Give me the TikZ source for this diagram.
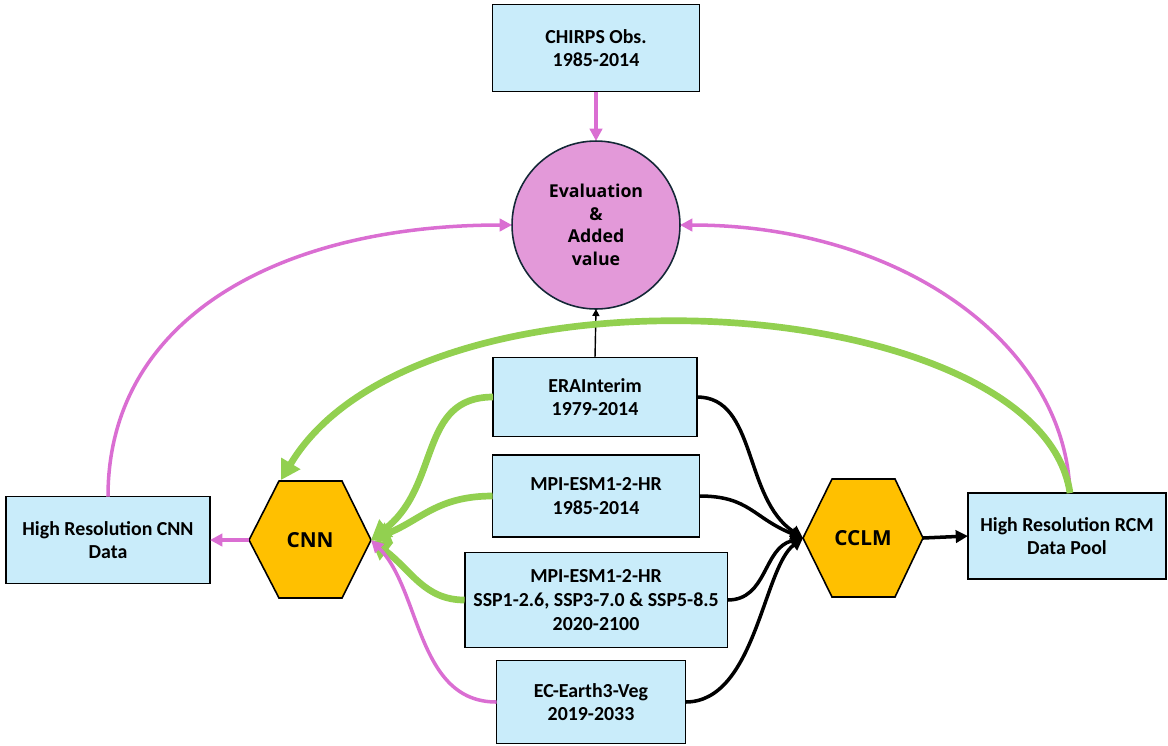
\documentclass[tikz,border=0pt]{standalone}
\usepackage{fontspec}
\setmainfont{Carlito}
\newfontfamily\osans{Open Sans}
\usetikzlibrary{arrows.meta}
\definecolor{boxblue}{RGB}{201,236,250}
\definecolor{hexorange}{RGB}{255,192,0}
\definecolor{evalpink}{RGB}{227,153,217}
\definecolor{linepink}{RGB}{218,110,210}
\definecolor{linegreen}{RGB}{146,208,80}
\definecolor{circborder}{RGB}{20,40,55}
\tikzset{
  databox/.style={draw=black, line width=1.1pt, fill=boxblue, inner sep=0pt, outer sep=0pt, align=center,
    font=\fontsize{11.3}{13.4}\selectfont\bfseries},
  hexshape/.style={draw=black, line width=0.9pt, fill=hexorange},
  hextext/.style={font=\osans\fontsize{11.8}{14}\selectfont\bfseries},
  pinkline/.style={draw=linepink, line width=2pt, -{Triangle[length=7pt,width=7pt]}},
  greenline/.style={draw=linegreen, line width=3.8pt, -{Triangle[length=11pt,width=12pt]}},
  blackline/.style={draw=black, line width=2pt, -{Triangle[length=7pt,width=7pt]}},
}
\begin{document}
\begin{tikzpicture}[x=0.02cm,y=-0.02cm]
\useasboundingbox (0,0) rectangle (1168,745);

% boxes
\node[databox, minimum width=4.14cm, minimum height=1.74cm] (chirps) at (596,48) {CHIRPS Obs.\\1985-2014};
\node[draw=circborder, line width=0.9pt, fill=evalpink, circle, minimum size=3.36cm, inner sep=0pt, outer sep=0pt, align=center,
  font=\osans\fontsize{10.1}{12.9}\selectfont\bfseries] (eval) at (596,225) {Evaluation\\\&\\Added\\value};
\node[databox, minimum width=4.08cm, minimum height=1.58cm] (era) at (595,397) {ERAInterim\\1979-2014};
\node[databox, minimum width=4.14cm, minimum height=1.64cm] (mpih) at (596,496) {MPI-ESM1-2-HR\\1985-2014};
\node[databox, minimum width=5.26cm, minimum height=1.9cm] (ssp) at (596,600) {MPI-ESM1-2-HR\\SSP1-2.6, SSP3-7.0 \& SSP5-8.5\\2020-2100};
\node[databox, minimum width=3.78cm, minimum height=1.66cm] (ec) at (591,702) {EC-Earth3-Veg\\2019-2033};
\node[databox, minimum width=4.08cm, minimum height=1.74cm] (hrcnn) at (108,540) {High Resolution CNN\\Data};
\node[databox, minimum width=3.96cm, minimum height=1.72cm] (hrrcm) at (1067,536) {High Resolution RCM\\Data Pool};

% hexagons
\draw[hexshape] (249,540) -- (279,481) -- (342,481) -- (371,540) -- (342,598) -- (279,598) -- cycle;
\node[hextext] (cnn) at (310,540) {CNN};
\coordinate (cnnL) at (249,540);
\coordinate (cnnR) at (371,540);
\coordinate (cnnT) at (281,480);

\draw[hexshape] (803,538) -- (832,479) -- (895,479) -- (923,538) -- (895,597) -- (832,597) -- cycle;
\node[hextext] (cclm) at (863,538) {CCLM};
\coordinate (cclmL) at (803,538);
\coordinate (cclmR) at (923,538);

% top connectors
\draw[pinkline, line width=2.2pt] (chirps.south) -- (eval.north);
\draw[draw=black, line width=0.8pt, -{Triangle[length=4pt,width=4pt]}] (era.north) -- (eval.south);

% pink arcs to evaluation
\draw[pinkline] (hrcnn.north) .. controls +(0,-180) and +(-230,0) .. (eval.west);
\coordinate (rcmtop) at (1070,493);
\draw[pinkline] (rcmtop) .. controls +(-5,-150) and +(220,0) .. (eval.east);

% big green arc
\draw[greenline] (rcmtop) .. controls +(-30,-203) and +(138,-231) .. (cnnT);

% inputs to CNN
\draw[greenline] (era.west) .. controls +(-75,0) and +(70,-55) .. (cnnR);
\draw[greenline] (mpih.west) .. controls +(-55,0) and +(50,-20) .. (cnnR);
\draw[greenline] (ssp.west) .. controls +(-40,0) and +(40,30) .. (cnnR);
\draw[pinkline] (ec.west) .. controls +(-80,0) and +(50,50) .. (cnnR);

% inputs to CCLM
\draw[blackline] (era.east) .. controls +(60,0) and +(-60,-40) .. (cclmL);
\draw[blackline] (mpih.east) .. controls +(50,0) and +(-50,-20) .. (cclmL);
\draw[blackline] (ssp.east) .. controls +(40,0) and +(-40,10) .. (cclmL);
\draw[blackline] (ec.east) .. controls +(70,0) and +(-40,30) .. (cclmL);

% outputs
\draw[blackline] (cclmR) -- (hrrcm.west);
\draw[pinkline] (cnnL) -- (hrcnn.east);
\end{tikzpicture}
\end{document}
